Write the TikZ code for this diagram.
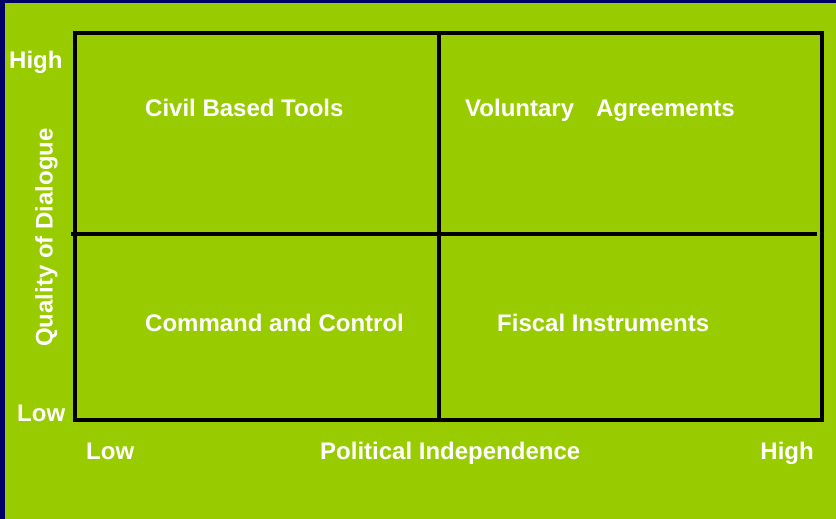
\documentclass[tikz,border=0pt]{standalone}
\usepackage{fontspec}
\setmainfont{Liberation Sans}
\definecolor{bggreen}{RGB}{153,204,0}
\definecolor{navyedge}{RGB}{0,0,102}
\tikzset{
  lbl/.style={font=\bfseries\fontsize{24}{28}\selectfont, text=white, inner sep=0pt, text height=17.2pt, text depth=0pt},
  gridline/.style={line width=4pt, black}
}
\begin{document}
\begin{tikzpicture}[x=1pt,y=-1pt]
\useasboundingbox (0,0) rectangle (836,519);
\fill[navyedge] (0,0) rectangle (836,519);
\fill[bggreen] (5,3) rectangle (836,519);
% grid
\draw[gridline] (75,33) rectangle (821.5,419.5);
\draw[gridline] (438.5,33) -- (438.5,419.5);
\draw[gridline] (71,233.5) -- (817,233.5);
% axis labels
\node[lbl, anchor=west] (yhigh) at (9,60) {High};
\node[lbl, anchor=west] (ylow) at (17,413) {Low};
\node[lbl, rotate=90] (yaxis) at (44,237.5) {Quality of Dialogue};
\node[lbl, anchor=west] (xlow) at (86,451) {Low};
\node[lbl, anchor=west] (xaxis) at (320,451) {Political Independence};
\node[lbl, anchor=east] (xhigh) at (814,451) {High};
% quadrants
\node[lbl, anchor=west] (civil) at (145,108) {Civil Based Tools};
\node[lbl, anchor=west] (vol) at (465,108) {Voluntary\hspace{22pt}Agreements};
\node[lbl, anchor=west] (cmd) at (145,323) {Command and Control};
\node[lbl, anchor=west] (fisc) at (497,323) {Fiscal Instruments};
\end{tikzpicture}
\end{document}
